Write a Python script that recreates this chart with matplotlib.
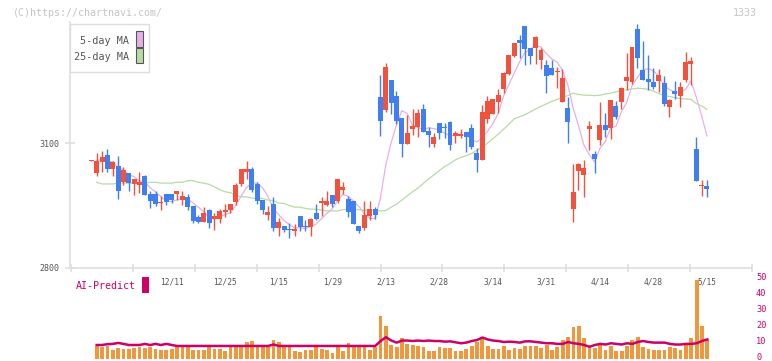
import numpy as np
import pandas as pd
import matplotlib
matplotlib.use("Agg")
import matplotlib.pyplot as plt
from matplotlib.patches import Rectangle
from matplotlib.transforms import blended_transform_factory, ScaledTranslation

plt.rcParams['font.family'] = ['DejaVu Sans Mono']

# daily candles (red = up, blue = down)
opens = [3057, 3029, 3056, 3072, 3039, 3045, 3007, 3029, 3001, 2999,
         3021, 2978, 2978, 2957, 2978, 2978, 2978, 2963, 2970, 2949,
         2922, 2911, 2939, 2917, 2918, 2934, 2939, 2959, 3002, 3032,
         3038, 3002, 2963, 2928, 2954, 2896, 2901, 2893, 2888, 2925,
         2901, 2899, 2931, 2955, 2952, 2975, 2960, 2988, 2966, 2960,
         2901, 2895, 2925, 2942, 3212, 3180, 3253, 3214, 3161, 3099,
         3134, 3139, 3183, 3129, 3099, 3149, 3138, 3151, 3118, 3118,
         3127, 3137, 3077, 3060, 3159, 3171, 3200, 3231, 3267, 3311,
         3349, 3383, 3330, 3330, 3301, 3289, 3281, 3271, 3200, 3185,
         2942, 3033, 3024, 3134, 3074, 3108, 3144, 3137, 3190, 3200,
         3250, 3248, 3376, 3277, 3255, 3248, 3250, 3245, 3187, 3226,
         3214, 3253, 3291, 3086, 2996, 2997]
highs = [3059, 3077, 3081, 3086, 3057, 3069, 3044, 3029, 3014, 3031,
         3024, 2985, 2985, 2973, 2978, 2978, 2985, 2985, 2978, 2950,
         2927, 2946, 2942, 2932, 2942, 2953, 2953, 3005, 3038, 3057,
         3042, 3006, 2963, 2949, 2971, 2921, 2901, 2907, 2905, 2925,
         2915, 2919, 2953, 2971, 2985, 2975, 3014, 3006, 2973, 2962,
         2901, 2960, 2961, 2946, 3265, 3294, 3253, 3226, 3161, 3168,
         3183, 3183, 3195, 3139, 3125, 3149, 3149, 3154, 3130, 3134,
         3127, 3146, 3089, 3192, 3214, 3207, 3231, 3272, 3313, 3342,
         3361, 3383, 3330, 3359, 3330, 3301, 3301, 3284, 3279, 3211,
         3050, 3052, 3060, 3154, 3081, 3199, 3173, 3204, 3202, 3236,
         3318, 3332, 3388, 3347, 3313, 3281, 3279, 3262, 3207, 3250,
         3248, 3320, 3308, 3115, 3011, 3011]
lows = [3057, 3022, 3031, 3030, 3022, 2966, 2999, 2985, 2975, 2979,
        2975, 2945, 2949, 2939, 2952, 2957, 2963, 2951, 2938, 2908,
        2908, 2911, 2896, 2891, 2907, 2923, 2933, 2951, 2998, 3013,
        2983, 2954, 2929, 2915, 2888, 2876, 2886, 2872, 2876, 2889,
        2888, 2876, 2915, 2925, 2949, 2947, 2955, 2977, 2923, 2905,
        2883, 2891, 2915, 2918, 3118, 3176, 3171, 3147, 3068, 3099,
        3120, 3115, 3127, 3092, 3092, 3110, 3112, 3085, 3101, 3113,
        3080, 3086, 3032, 3060, 3150, 3171, 3174, 3221, 3265, 3308,
        3306, 3289, 3291, 3291, 3279, 3221, 3265, 3234, 3200, 3100,
        2910, 2987, 2970, 3084, 3028, 3096, 3115, 3110, 3158, 3183,
        3229, 3243, 3282, 3253, 3229, 3231, 3224, 3190, 3163, 3207,
        3187, 3248, 3241, 3009, 2973, 2971]
closes = [3059, 3058, 3067, 3039, 3055, 2986, 3036, 3005, 3014, 3007,
          2975, 2962, 2954, 2958, 2958, 2963, 2985, 2973, 2947, 2913,
          2911, 2932, 2908, 2925, 2937, 2939, 2953, 2999, 3038, 3038,
          2987, 2961, 2939, 2934, 2895, 2910, 2891, 2890, 2893, 2899,
          2899, 2917, 2917, 2961, 2961, 2954, 3014, 2995, 2935, 2905,
          2889, 2927, 2942, 2927, 3155, 3285, 3198, 3155, 3099, 3125,
          3142, 3173, 3127, 3120, 3115, 3124, 3136, 3096, 3125, 3123,
          3116, 3092, 3060, 3175, 3202, 3207, 3216, 3270, 3313, 3342,
          3342, 3327, 3311, 3356, 3325, 3262, 3265, 3272, 3258, 3151,
          2983, 3050, 3040, 3142, 3062, 3144, 3132, 3204, 3163, 3233,
          3260, 3332, 3306, 3253, 3248, 3236, 3265, 3194, 3204, 3219,
          3236, 3296, 3298, 3009, 2997, 2989]

# from the 2nd candle on
ma25 = [3006, 3002, 3002, 3002, 3004, 3004, 3004, 3004, 3004, 3004,
        3006, 3006, 3004, 3004, 3004, 3006, 3006, 3010, 3010, 3006,
        3004, 3001, 2995, 2988, 2983, 2981, 2974, 2971, 2971, 2968,
        2967, 2967, 2963, 2962, 2956, 2955, 2950, 2946, 2946, 2943,
        2941, 2941, 2939, 2937, 2937, 2937, 2940, 2941, 2941, 2940,
        2939, 2939, 2938, 2937, 2938, 2946, 2953, 2963, 2973, 2983,
        2992, 3003, 3014, 3024, 3034, 3044, 3051, 3060, 3066, 3070,
        3075, 3083, 3091, 3100, 3111, 3122, 3134, 3146, 3159, 3164,
        3169, 3176, 3183, 3189, 3195, 3201, 3206, 3211, 3215, 3221,
        3218, 3216, 3216, 3215, 3216, 3219, 3221, 3224, 3227, 3229,
        3231, 3233, 3232, 3230, 3226, 3220, 3215, 3213, 3210, 3208,
        3207, 3206, 3196, 3190, 3182]
volume = [7.9, 7.0, 8.1, 5.4, 6.6, 6.0, 6.0, 6.6, 7.0, 6.6,
          7.0, 6.0, 5.4, 5.4, 6.0, 7.0, 7.4, 7.4, 5.4, 5.4,
          5.4, 7.0, 6.0, 6.0, 4.7, 7.0, 7.0, 7.0, 10.4, 11.0,
          7.0, 7.0, 7.0, 11.6, 10.4, 7.0, 7.0, 4.7, 4.1, 5.4,
          5.4, 7.0, 6.0, 5.4, 3.5, 7.0, 4.7, 9.8, 7.0, 7.0,
          7.0, 5.4, 7.0, 26.8, 20.5, 8.5, 7.0,
          12.9, 9.1, 8.5, 7.9, 7.0, 4.7, 4.7, 7.0, 6.6, 6.6,
          4.7, 4.7, 6.0, 7.9, 10.4, 12.3, 7.9, 6.0, 6.0, 7.9,
          5.4, 6.6, 6.2, 7.9, 7.9, 7.9, 6.6, 8.5, 5.4, 7.0,
          11.6, 13.7, 20.0, 20.5, 12.9, 7.0, 6.6, 8.5, 5.4, 7.9,
          4.7, 4.7, 7.9, 11.6, 13.7, 7.0, 6.0, 5.4, 5.4, 5.4,
          7.0, 6.6, 5.4, 8.5, 12.9, 49.6, 20.5, 11.6]
ai_predict = [8.5, 8.5, 9.0, 9.2, 9.8, 9.2, 8.5, 8.5, 8.5, 9.2,
              8.5, 9.2, 8.5, 9.2, 8.5, 7.9, 7.9, 7.9, 7.9, 7.9,
              7.9, 7.9, 7.9, 7.9, 7.9, 7.9, 7.9, 7.9, 7.9, 7.9,
              7.9, 7.9, 7.9, 8.8, 7.9, 7.9, 7.9, 7.9, 7.9, 7.9,
              7.9, 7.9, 7.9, 7.9, 7.9, 7.9, 7.9, 7.9, 7.9, 7.9,
              7.9, 7.9, 7.9, 11.0, 13.4, 11.3, 10.0,
              11.3, 11.3, 11.0, 11.3, 11.0, 11.3, 11.0, 11.0, 10.6, 10.8,
              10.2, 9.6, 10.0, 11.0, 11.6, 13.2, 12.0, 11.3, 11.0, 10.4,
              10.6, 10.4, 10.0, 10.8, 10.8, 10.4, 10.0, 9.6, 9.6, 9.2,
              9.2, 10.4, 9.6, 9.2, 8.5, 7.4, 8.5, 9.2, 8.8, 9.6,
              9.2, 8.8, 9.6, 9.2, 10.4, 11.0, 10.4, 10.0, 10.0, 10.0,
              9.2, 8.8, 8.8, 9.2, 9.2, 9.6, 11.0, 12.0]
date_labels = ['12/11', '12/25', '1/15', '1/29', '2/13', '2/28',
               '3/14', '3/31', '4/14', '4/28', '5/15']
price_ticks = [2800, 3100]
vol_ticks = [0, 10, 20, 30, 40, 50]

RED = '#f0523e'
BLUE = '#3f7ff0'
MAGENTA = '#cc0066'
GREY = '#555555'
LINE = '#dddddd'

W, H = 772, 361
fig = plt.figure(figsize=(W / 100, H / 100), dpi=100)


def box(x0, y0, x1, y1):
    # pixel box (top-left origin) -> figure fraction
    return [x0 / W, 1 - y1 / H, (x1 - x0) / W, (y1 - y0) / H]


x = np.arange(len(closes))
xlim = (-3.98, 123.39)

# ---- price panel
ax = fig.add_axes(box(70, 22, 752.3, 267.7))
ax.set_xlim(*xlim)
ax.set_ylim(2800, 3392.6)

o = np.array(opens); c = np.array(closes)
colors = [RED if cc >= oo else BLUE for oo, cc in zip(o, c)]
ax.vlines(x, lows, highs, colors=colors, lw=1.0, zorder=2)
body_h = np.maximum(np.abs(c - o), 2.4)
ax.bar(x, body_h, bottom=np.minimum(o, c), width=0.93, color=colors,
       linewidth=0, zorder=3)

ma5 = pd.Series(closes).rolling(5, min_periods=1).mean()
ax.plot(x[1:], ma5[1:], color='#e6b0e6', lw=0.9, zorder=1)
ax.plot(x[1:], ma25, color='#b6dca4', lw=0.9, zorder=1)

for s in ['top', 'right']:
    ax.spines[s].set_visible(False)
for s in ['left', 'bottom']:
    ax.spines[s].set_color(LINE)
    ax.spines[s].set_linewidth(1.1)
ax.set_yticks(price_ticks)
ax.set_yticklabels([str(p) for p in price_ticks])
ax.tick_params(axis='y', direction='inout', length=6.5, width=1.1,
               color=LINE, labelcolor=GREY, labelsize=6, pad=4.4)
ax.set_xticks(7.73 + 11.574 * np.arange(-1, 11))
ax.tick_params(axis='x', direction='inout', length=5.8, width=1.1,
               color=LINE, labelbottom=False)
ax.patch.set_alpha(0)

# ---- volume / AI-Predict panel
axv = fig.add_axes(box(70, 270, 752.3, 361))
axv.set_xlim(*xlim)
axv.set_ylim(-1.57, 55.7)
axv.bar(x[1:], volume, width=0.7, color='#f0963c', linewidth=0)
axv.plot(x[1:], ai_predict, color=MAGENTA, lw=1.8, solid_joinstyle='round')
for s in axv.spines.values():
    s.set_visible(False)
axv.set_xticks([])
axv.yaxis.tick_right()
axv.set_yticks(vol_ticks)
axv.set_yticklabels([str(v) for v in vol_ticks])
axv.tick_params(axis='y', length=0, pad=2.7, labelcolor=MAGENTA, labelsize=6.2)
# nudge the right-hand labels up a touch so "0" stays inside the picture
lift = ScaledTranslation(0, 2.5 / 100, fig.dpi_scale_trans)
for lab in axv.get_yticklabels():
    lab.set_transform(lab.get_transform() + lift)
axv.patch.set_alpha(0)

# date labels every 10 sessions
tr = blended_transform_factory(ax.transData, fig.transFigure)
for pos, lab in zip(range(15, 116, 10), date_labels):
    ax.text(pos, 1 - 282.3 / H, lab, transform=tr, ha='center', va='center',
            fontsize=5.7, color=GREY, clip_on=False)

# legend box
fig.add_artist(Rectangle((70 / W, 1 - 72 / H), 78.7 / W, 48 / H,
                         transform=fig.transFigure, facecolor='white',
                         edgecolor=LINE, lw=1.0))
fig.add_artist(Rectangle((136.3 / W, 1 - 46.7 / H), 6.4 / W, 15.7 / H,
                         transform=fig.transFigure, facecolor='#e6b0e6',
                         edgecolor=GREY, lw=0.8))
fig.add_artist(Rectangle((136.3 / W, 1 - 63.3 / H), 6.4 / W, 15 / H,
                         transform=fig.transFigure, facecolor='#b6dca4',
                         edgecolor=GREY, lw=0.8))
fig.text(129.3 / W, 1 - 40.7 / H, '5-day MA', ha='right', va='center',
         fontsize=7.3, color=GREY)
fig.text(129.3 / W, 1 - 57.3 / H, '25-day MA', ha='right', va='center',
         fontsize=7.3, color=GREY)

# AI-Predict tag
fig.text(76 / W, 1 - 285.7 / H, 'AI-Predict', ha='left', va='center',
         fontsize=7.2, color=MAGENTA)
fig.add_artist(Rectangle((142.3 / W, 1 - 292.7 / H), 6.4 / W, 16 / H,
                         transform=fig.transFigure, facecolor=MAGENTA,
                         edgecolor='none'))

fig.text(13 / W, 1 - 12.5 / H, '(C)https://chartnavi.com/', ha='left',
         va='center', fontsize=7.2, color='#c4c4c4')
fig.text(757 / W, 1 - 12.5 / H, '1333', ha='right', va='center',
         fontsize=7.2, color='#c4c4c4')

fig.savefig('out.png', dpi=100)
